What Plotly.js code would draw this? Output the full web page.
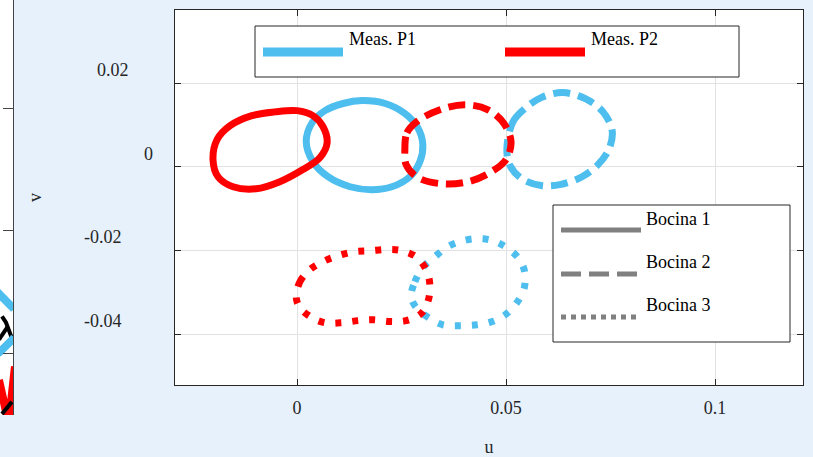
<!DOCTYPE html>
<html>
<head>
<meta charset="utf-8">
<script src="https://cdn.plot.ly/plotly-3.0.1.min.js"></script>
<style>
html,body{margin:0;padding:0;background:#e6f1fc;}
#chart{width:813px;height:457px;}
</style>
</head>
<body>
<div id="chart"></div>
<script>
// ---------- data (u, v) ----------
// Bocina 1 (solid)
const b1P1_u = [0.0022,0.0036,0.0067,0.0110,0.0156,0.0211,0.0258,0.0289,0.0301,0.0294,0.0270,0.0227,0.0179,0.0127,0.0074,0.0038,0.0022];
const b1P1_v = [0.0060,0.0105,0.0134,0.0151,0.0158,0.0151,0.0127,0.0093,0.0053,0.0012,-0.0024,-0.0048,-0.0055,-0.0048,-0.0024,0.0012,0.0060];
const b1P2_u = [-0.0201,-0.0191,-0.0160,-0.0108,-0.0053,0.0000,0.0038,0.0062,0.0072,0.0055,0.0014,-0.0041,-0.0098,-0.0153,-0.0189,-0.0201];
const b1P2_v = [0.0017,0.0065,0.0098,0.0122,0.0131,0.0134,0.0122,0.0096,0.0057,0.0022,-0.0007,-0.0036,-0.0053,-0.0048,-0.0024,0.0017];
// Bocina 2 (dashed)
const b2P1_u = [0.0502,0.0517,0.0545,0.0584,0.0636,0.0691,0.0732,0.0754,0.0746,0.0720,0.0682,0.0629,0.0584,0.0538,0.0510,0.0502];
const b2P1_v = [0.0041,0.0108,0.0139,0.0165,0.0177,0.0162,0.0131,0.0086,0.0041,0.0005,-0.0024,-0.0043,-0.0045,-0.0029,0.0002,0.0041];
const b2P2_u = [0.0258,0.0263,0.0287,0.0342,0.0402,0.0457,0.0495,0.0512,0.0500,0.0462,0.0409,0.0347,0.0289,0.0261,0.0258];
const b2P2_v = [0.0041,0.0081,0.0108,0.0136,0.0148,0.0136,0.0103,0.0060,0.0017,-0.0014,-0.0036,-0.0041,-0.0026,0.0005,0.0041];
// Bocina 3 (dotted)
const b3P1_u = [0.0273,0.0282,0.0301,0.0330,0.0361,0.0397,0.0433,0.0469,0.0502,0.0531,0.0545,0.0543,0.0526,0.0498,0.0467,0.0431,0.0390,0.0349,0.0318,0.0287,0.0273];
const b3P1_v = [-0.0311,-0.0275,-0.0241,-0.0215,-0.0191,-0.0177,-0.0172,-0.0177,-0.0194,-0.0220,-0.0253,-0.0292,-0.0325,-0.0354,-0.0370,-0.0378,-0.0380,-0.0378,-0.0363,-0.0339,-0.0311];
const b3P2_u = [-0.0002,0.0007,0.0031,0.0062,0.0098,0.0139,0.0175,0.0215,0.0251,0.0287,0.0311,0.0318,0.0313,0.0297,0.0261,0.0222,0.0182,0.0146,0.0108,0.0067,0.0036,0.0007,-0.0002];
const b3P2_v = [-0.0311,-0.0275,-0.0246,-0.0227,-0.0213,-0.0203,-0.0201,-0.0198,-0.0201,-0.0217,-0.0251,-0.0287,-0.0323,-0.0351,-0.0368,-0.0370,-0.0366,-0.0368,-0.0373,-0.0373,-0.0361,-0.0337,-0.0311];

// partially visible neighbouring panel (left edge), in its own axis units
const sideBlueA_x = [-0.38,0,0.54,1.08];
const sideBlueA_y = [-0.48,-0.52,-0.57,-0.64];
const sideBlueB_x = [-0.38,0,1.0,1.1];
const sideBlueB_y = [-1.02,-0.99,-0.885,-0.87];
const sideBlack1_x = [0.15,0.46,0.92];
const sideBlack1_y = [-0.70,-0.75,-0.88];
const sideBlack2_x = [0.62,0.23,-0.08];
const sideBlack2_y = [-0.78,-0.84,-0.89];
const sideBlack3_x = [0.15,0.92];
const sideBlack3_y = [-1.50,-1.40];
const sideRed_x = [-0.08,0.46,0.77,1.15];
const sideRed_y = [-1.22,-1.48,-1.48,-1.11];

// ticks and labels
const xTickVals = [0,0.05,0.1];
const xTickText = ['0','0.05','0.1'];
const yTickVals = [0.02,0,-0.02,-0.04];
const yTickText = ['0.02','0','-0.02','-0.04'];
const measLabels = ['Meas. P1','Meas. P2'];
const bocinaLabels = ['Bocina 1','Bocina 2','Bocina 3'];

// ---------- styles ----------
const BLUE = '#4dbeee', RED = '#ff0000', GRAY = '#808080', AX = '#262626';
const FONT = 'Liberation Serif, Times New Roman, serif';
const DASHES = ['solid','17px,8px','6px,11px'];
const W = 813, H = 457;
const px = x => x / W;
const py = y => 1 - y / H;

function loop(u, v, color, dash) {
  return {x:u, y:v, type:'scatter', mode:'lines', xaxis:'x', yaxis:'y',
    line:{color:color, width:7, dash:dash, shape:'spline', smoothing:1},
    showlegend:false, hoverinfo:'skip'};
}
function side(x, y, color, width) {
  return {x:x, y:y, type:'scatter', mode:'lines', xaxis:'x2', yaxis:'y2',
    line:{color:color, width:width}, showlegend:false, hoverinfo:'skip'};
}

const traces = [
  loop(b1P1_u, b1P1_v, BLUE, DASHES[0]),
  loop(b1P2_u, b1P2_v, RED, DASHES[0]),
  loop(b2P1_u, b2P1_v, BLUE, DASHES[1]),
  loop(b2P2_u, b2P2_v, RED, DASHES[1]),
  loop(b3P1_u, b3P1_v, BLUE, DASHES[2]),
  loop(b3P2_u, b3P2_v, RED, DASHES[2]),
  side(sideBlueA_x, sideBlueA_y, BLUE, 8),
  side(sideBlack1_x, sideBlack1_y, '#000', 4),
  side(sideBlack2_x, sideBlack2_y, '#000', 4),
  side(sideBlueB_x, sideBlueB_y, BLUE, 8),
  side(sideRed_x, sideRed_y, RED, 8),
  side(sideBlack3_x, sideBlack3_y, '#000', 4)
];

// ---------- legends (drawn as boxes, sample lines, labels) ----------
const shapes = [];
const annotations = [];
// legend 1
shapes.push({type:'rect', xref:'paper', yref:'paper', x0:px(255), x1:px(739), y0:py(77), y1:py(26),
  fillcolor:'white', line:{color:AX, width:1}});
const measColors = [BLUE, RED];
const measX = [263, 505];
measLabels.forEach((t, i) => {
  shapes.push({type:'line', xref:'paper', yref:'paper', x0:px(measX[i]), x1:px(measX[i] + 80), y0:py(52), y1:py(52),
    line:{color:measColors[i], width:9}});
  annotations.push({xref:'paper', yref:'paper', x:px(measX[i] + 84), y:py(39), text:t, showarrow:false,
    xanchor:'left', yanchor:'middle', font:{family:FONT, size:18, color:'#000'}});
});
// legend 2
shapes.push({type:'rect', xref:'paper', yref:'paper', x0:px(553), x1:px(790), y0:py(342), y1:py(205),
  fillcolor:'white', line:{color:AX, width:1}});
const bocLineY = [230, 274, 317];
const bocTextY = [219, 262, 305];
const bocDash = ['solid', '20px,8px', '5px,5px'];
bocinaLabels.forEach((t, i) => {
  shapes.push({type:'line', xref:'paper', yref:'paper', x0:px(561), x1:px(641), y0:py(bocLineY[i]), y1:py(bocLineY[i]),
    line:{color:GRAY, width:5, dash:bocDash[i]}});
  annotations.push({xref:'paper', yref:'paper', x:px(644), y:py(bocTextY[i]), text:t, showarrow:false,
    xanchor:'left', yanchor:'middle', font:{family:FONT, size:18, color:'#000'}});
});
// y tick labels (placed as in the reference)
const yTickLabelX = [113, 148, 103, 103];
yTickText.forEach((t, i) => {
  annotations.push({xref:'paper', yref:'y', x:px(yTickLabelX[i]), y:yTickVals[i], yshift:13, text:t,
    showarrow:false, xanchor:'center', yanchor:'middle', font:{family:FONT, size:18, color:AX}});
});

const layout = {
  width:W, height:H,
  margin:{l:0, r:0, t:0, b:0},
  paper_bgcolor:'#e6f1fc',
  plot_bgcolor:'#ffffff',
  font:{family:FONT, size:18, color:AX},
  showlegend:false,
  xaxis:{domain:[px(175), px(803)], range:[-0.02919, 0.12105], anchor:'y',
    tickmode:'array', tickvals:xTickVals, ticktext:xTickText,
    ticks:'inside', ticklen:6, tickcolor:AX, tickwidth:1,
    showline:true, linecolor:AX, linewidth:1, mirror:'ticks',
    showgrid:true, gridcolor:'#e2e2e2', gridwidth:1, zeroline:false,
    tickfont:{family:FONT, size:18, color:AX}, ticklabelstandoff:6,
    title:{text:'u', font:{family:FONT, size:18, color:AX}, standoff:28}, automargin:false},
  yaxis:{domain:[py(385), py(10)], range:[-0.05219, 0.03745], anchor:'x',
    tickmode:'array', tickvals:yTickVals, showticklabels:false,
    ticks:'inside', ticklen:6, tickcolor:AX, tickwidth:1,
    showline:true, linecolor:AX, linewidth:1, mirror:'ticks',
    showgrid:true, gridcolor:'#e2e2e2', gridwidth:1, zeroline:false,
    title:{text:'v', font:{family:FONT, size:18, color:AX}, standoff:127}, automargin:false},
  xaxis2:{domain:[0, px(13)], range:[0,1], anchor:'y2', visible:false, fixedrange:true},
  yaxis2:{domain:[py(415), 1], range:[-1.508, 1.893], anchor:'x2', side:'right',
    tickmode:'array', tickvals:[-1,0,1], showticklabels:false,
    ticks:'inside', ticklen:10, tickcolor:'#444', showline:true, linecolor:'#444', linewidth:1,
    showgrid:false, zeroline:false, automargin:false},
  shapes:shapes,
  annotations:annotations
};

Plotly.newPlot('chart', traces, layout, {displayModeBar:false, staticPlot:true});
</script>
</body>
</html>
